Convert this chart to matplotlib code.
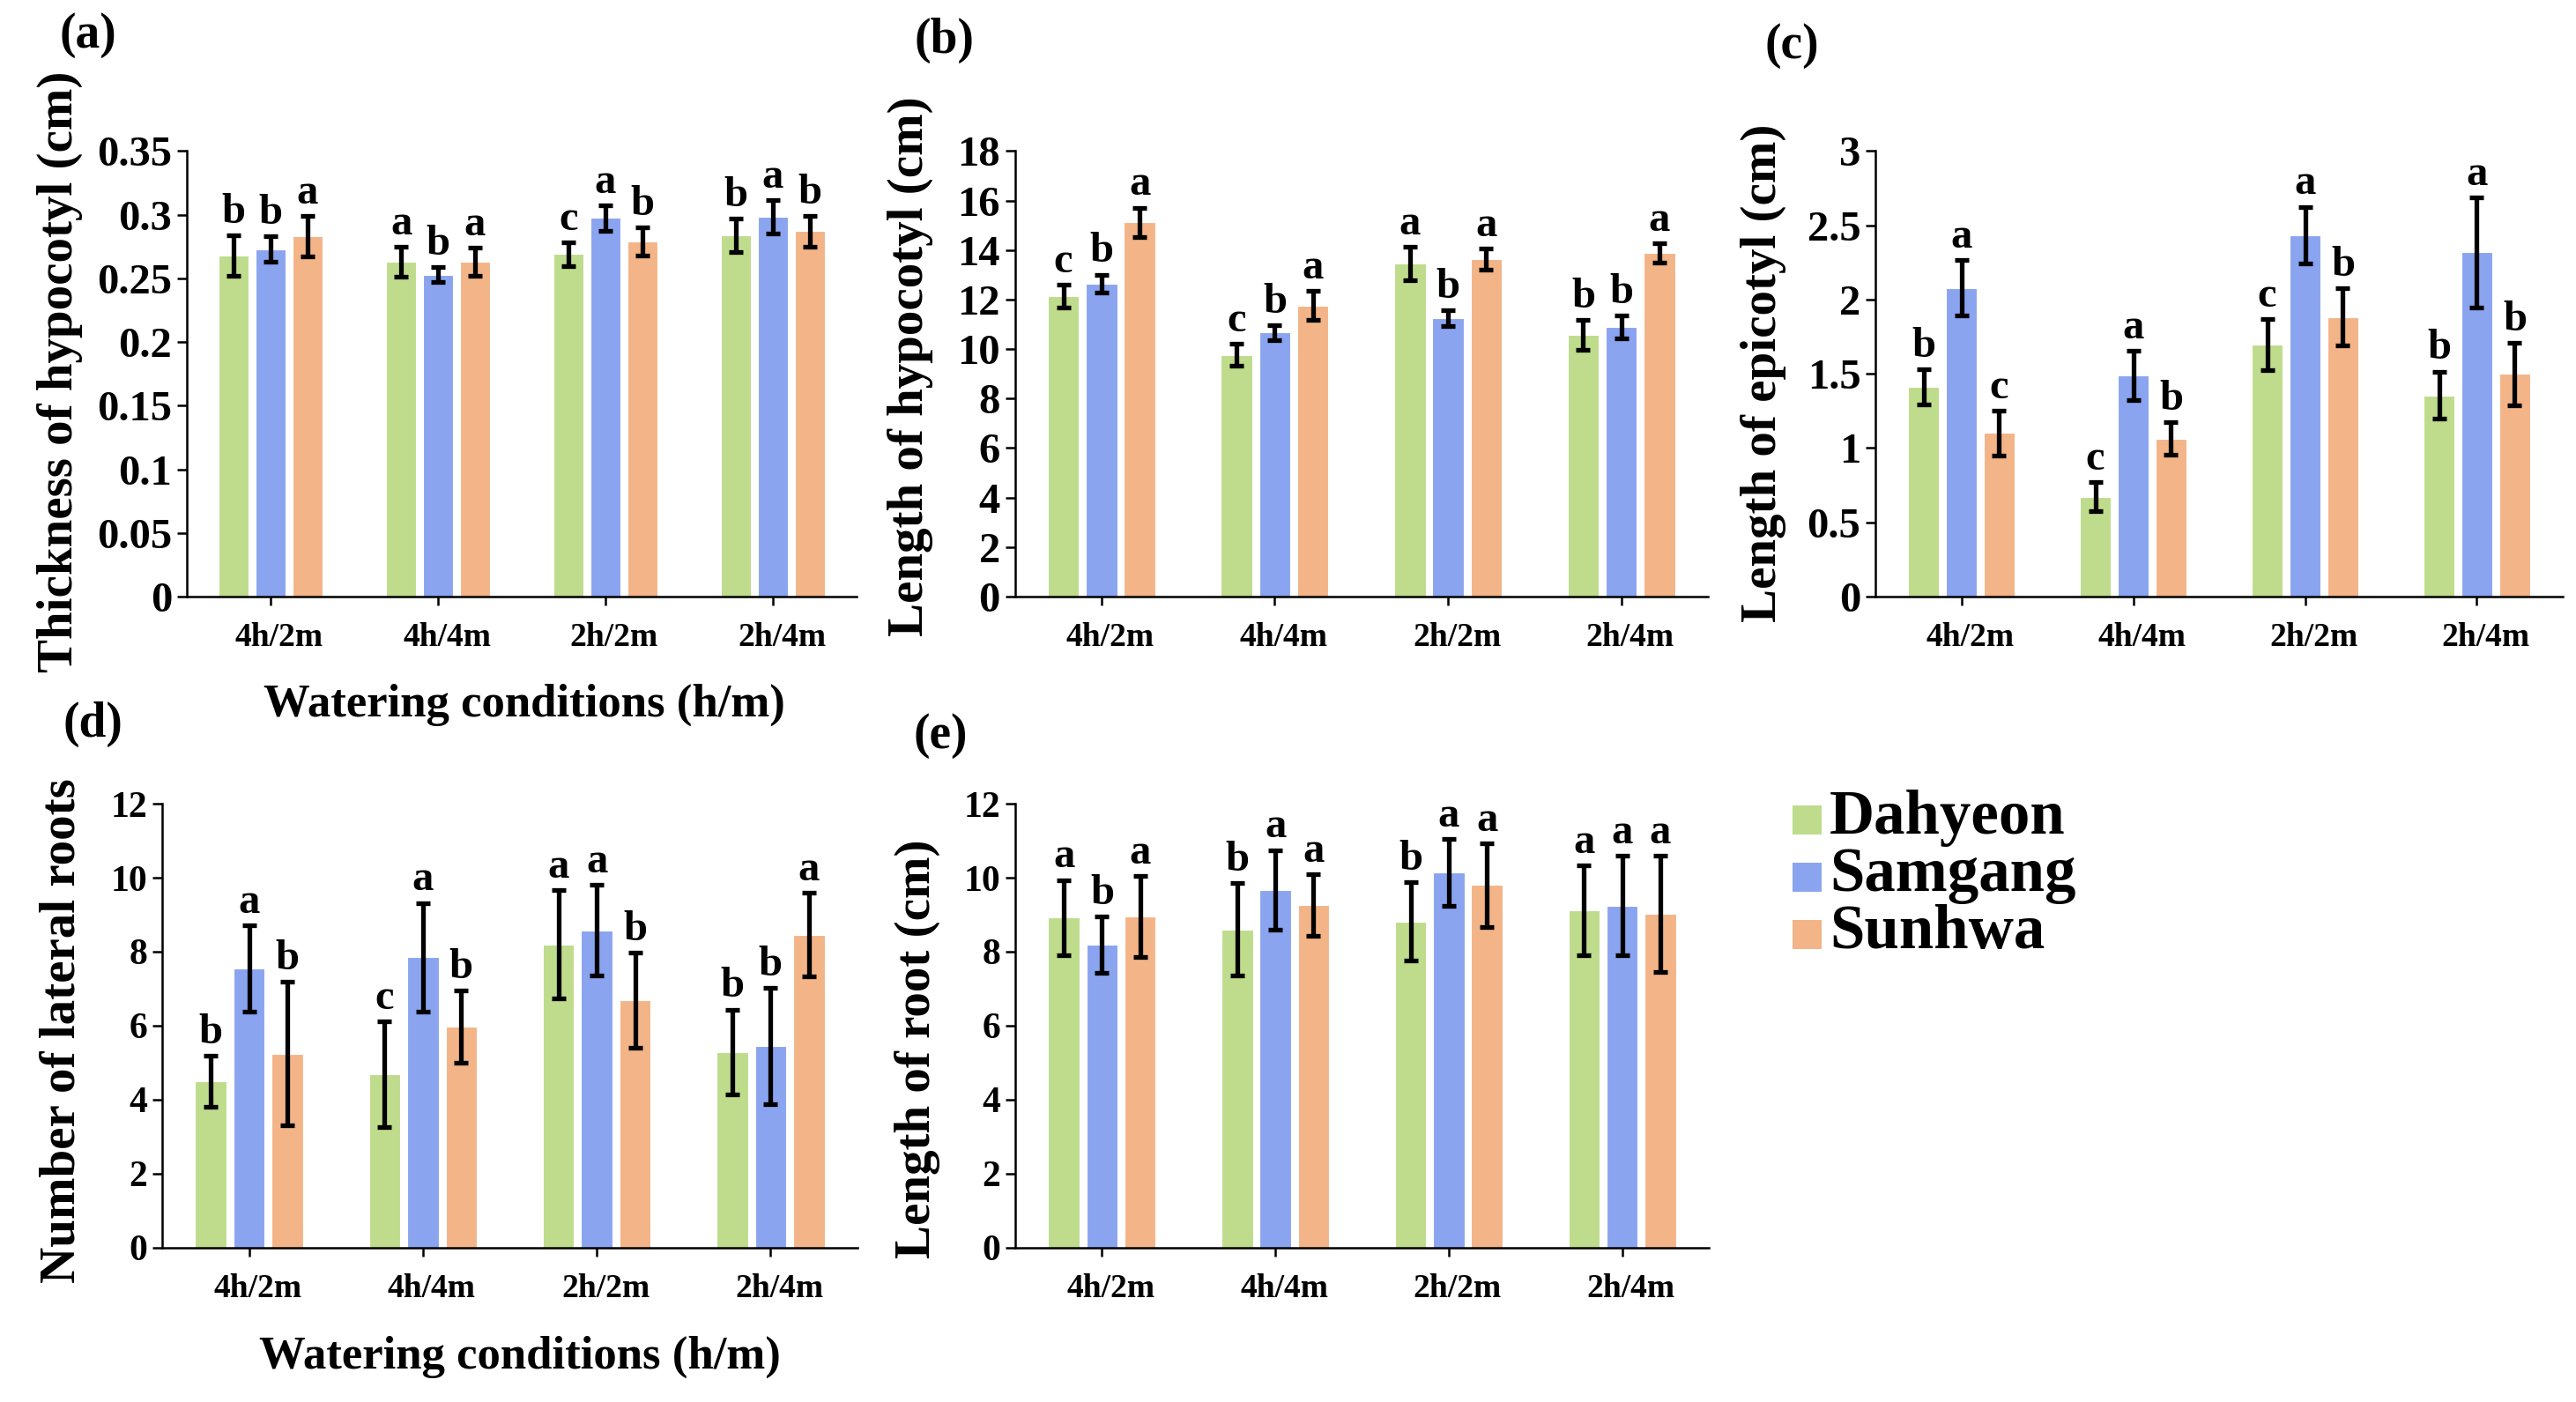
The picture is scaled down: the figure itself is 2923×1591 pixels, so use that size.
import numpy as np
import matplotlib
matplotlib.use("Agg")
import matplotlib.pyplot as plt
from matplotlib.ticker import FuncFormatter, MultipleLocator
from matplotlib.patches import Rectangle
import matplotlib.transforms as mtransforms

plt.rcParams['font.family'] = ['Liberation Serif', 'DejaVu Serif']
plt.rcParams['font.weight'] = 'bold'

W, H, DPI = 2923, 1591, 100

conditions = ["4h/2m", "4h/4m", "2h/2m", "2h/4m"]
cultivars = ["Dahyeon", "Samgang", "Sunhwa"]
colors = ["#BEDC8C", "#8AA4F0", "#F3B488"]

# (a) Thickness of hypocotyl
a_mean = {"Dahyeon": [0.268, 0.263, 0.269, 0.284],
          "Samgang": [0.273, 0.253, 0.2975, 0.2985],
          "Sunhwa":  [0.283, 0.263, 0.279, 0.287]}
a_err = {"Dahyeon": [0.016, 0.012, 0.0095, 0.013],
         "Samgang": [0.010, 0.006, 0.010, 0.013],
         "Sunhwa":  [0.016, 0.011, 0.011, 0.012]}
a_let = {"Dahyeon": ["b", "a", "c", "b"],
         "Samgang": ["b", "b", "a", "a"],
         "Sunhwa":  ["a", "a", "b", "b"]}

# (b) Length of hypocotyl
b_mean = {"Dahyeon": [12.14, 9.77, 13.46, 10.57],
          "Samgang": [12.64, 10.67, 11.26, 10.89],
          "Sunhwa":  [15.12, 11.76, 13.63, 13.89]}
b_err = {"Dahyeon": [0.47, 0.45, 0.68, 0.6],
         "Samgang": [0.37, 0.3, 0.32, 0.47],
         "Sunhwa":  [0.6, 0.58, 0.42, 0.39]}
b_let = {"Dahyeon": ["c", "c", "a", "b"],
         "Samgang": ["b", "b", "b", "b"],
         "Sunhwa":  ["a", "a", "a", "a"]}

# (c) Length of epicotyl
c_mean = {"Dahyeon": [1.412, 0.673, 1.697, 1.356],
          "Samgang": [2.079, 1.489, 2.436, 2.318],
          "Sunhwa":  [1.101, 1.064, 1.883, 1.499]}
c_err = {"Dahyeon": [0.118, 0.10, 0.174, 0.16],
         "Samgang": [0.186, 0.166, 0.19, 0.37],
         "Sunhwa":  [0.15, 0.11, 0.194, 0.21]}
c_let = {"Dahyeon": ["b", "c", "c", "b"],
         "Samgang": ["a", "a", "a", "a"],
         "Sunhwa":  ["c", "b", "b", "b"]}

# (d) Number of lateral roots
d_mean = {"Dahyeon": [4.49, 4.69, 8.2, 5.29],
          "Samgang": [7.54, 7.85, 8.58, 5.45],
          "Sunhwa":  [5.24, 5.98, 6.69, 8.46]}
d_err = {"Dahyeon": [0.69, 1.43, 1.47, 1.15],
         "Samgang": [1.17, 1.47, 1.22, 1.58],
         "Sunhwa":  [1.94, 0.97, 1.29, 1.13]}
d_let = {"Dahyeon": ["b", "c", "a", "b"],
         "Samgang": ["a", "a", "a", "b"],
         "Sunhwa":  ["b", "b", "b", "a"]}

# (e) Length of root
e_mean = {"Dahyeon": [8.92, 8.6, 8.82, 9.12],
          "Samgang": [8.19, 9.67, 10.15, 9.25],
          "Sunhwa":  [8.95, 9.27, 9.8, 9.02]}
e_err = {"Dahyeon": [1.02, 1.25, 1.06, 1.22],
         "Samgang": [0.77, 1.08, 0.9, 1.35],
         "Sunhwa":  [1.1, 0.83, 1.13, 1.57]}
e_let = {"Dahyeon": ["a", "b", "b", "a"],
         "Samgang": ["b", "a", "a", "a"],
         "Sunhwa":  ["a", "a", "a", "a"]}

fig = plt.figure(figsize=(W / DPI, H / DPI), dpi=DPI)


def fx(x):
    return x / W


def fy(y):
    return 1 - y / H


def make_axes(left, right, top, bottom):
    return fig.add_axes([fx(left), fy(bottom), (right - left) / W, (bottom - top) / H])


def draw_panel(ax, mean, err, let, ymax, ystep, tick_fs):
    x = np.arange(len(conditions))
    for j, cv in enumerate(cultivars):
        xs = x + (j - 1) * 0.22
        ax.bar(xs, mean[cv], width=0.18, color=colors[j], edgecolor='white',
               linewidth=0.8, zorder=2)
        ax.errorbar(xs, mean[cv], yerr=err[cv], fmt='none', ecolor='black',
                    elinewidth=3.8, capsize=6, capthick=3.8, zorder=3)
        for k in range(len(conditions)):
            ax.annotate(let[cv][k], (xs[k], mean[cv][k] + err[cv][k]),
                        xytext=(0, 3), textcoords='offset points',
                        ha='center', va='bottom', fontsize=35, fontweight='bold')
    ax.set_xlim(-0.5, len(conditions) - 0.5)
    ax.set_ylim(0, ymax)
    ax.yaxis.set_major_locator(MultipleLocator(ystep))
    ax.yaxis.set_major_formatter(FuncFormatter(lambda v, p: '{:g}'.format(round(v, 4))))
    ax.set_xticks(x)
    ax.set_xticklabels(conditions)
    for s in ['top', 'right']:
        ax.spines[s].set_visible(False)
    for s in ['left', 'bottom']:
        ax.spines[s].set_linewidth(1.8)
    ax.tick_params(axis='y', direction='out', length=8, width=1.8, pad=4,
                   labelsize=tick_fs)
    ax.tick_params(axis='x', direction='out', length=7, width=1.8, pad=14,
                   labelsize=27)
    offset = mtransforms.ScaledTranslation(10 / DPI, 0, fig.dpi_scale_trans)
    for lab in ax.get_xticklabels():
        lab.set_transform(lab.get_transform() + offset)
        lab.set_fontweight('bold')
    for lab in ax.get_yticklabels():
        lab.set_fontweight('bold')


axA = make_axes(212, 972, 171.5, 677)
draw_panel(axA, a_mean, a_err, a_let, 0.35, 0.05, 35)
axB = make_axes(1151.5, 1938, 171.5, 677)
draw_panel(axB, b_mean, b_err, b_let, 18, 2, 35)
axC = make_axes(2128, 2908, 171.5, 677)
draw_panel(axC, c_mean, c_err, c_let, 3, 0.5, 35)
axD = make_axes(184, 973, 912, 1416)
draw_panel(axD, d_mean, d_err, d_let, 12, 2, 30)
axE = make_axes(1152, 1939, 912, 1416)
draw_panel(axE, e_mean, e_err, e_let, 12, 2, 30)

ylab_fs = 41
xlab_fs = 38
fig.text(fx(68), fy(422), "Thickness of hypocotyl (cm)", rotation=90,
         ha='center', va='center', fontsize=ylab_fs, fontweight='bold')
fig.text(fx(1033), fy(416), "Length of hypocotyl (cm)", rotation=90,
         ha='center', va='center', fontsize=ylab_fs, fontweight='bold')
fig.text(fx(2001), fy(423), "Length of epicotyl (cm)", rotation=90,
         ha='center', va='center', fontsize=ylab_fs, fontweight='bold')
fig.text(fx(71), fy(1170), "Number of lateral roots", rotation=90,
         ha='center', va='center', fontsize=ylab_fs, fontweight='bold')
fig.text(fx(1041), fy(1190), "Length of root (cm)", rotation=90,
         ha='center', va='center', fontsize=ylab_fs, fontweight='bold')
fig.text(fx(595), fy(800), "Watering conditions (h/m)",
         ha='center', va='center', fontsize=xlab_fs, fontweight='bold')
fig.text(fx(590), fy(1540), "Watering conditions (h/m)",
         ha='center', va='center', fontsize=xlab_fs, fontweight='bold')

pan_fs = 40
for lbl, (px_, py_) in zip(["(a)", "(b)", "(c)", "(d)", "(e)"],
                           [(100, 40), (1071, 46), (2033, 52), (105, 822), (1067, 835)]):
    fig.text(fx(px_), fy(py_), lbl, ha='center', va='center',
             fontsize=pan_fs, fontweight='bold')

# legend
leg_y = [930, 995, 1060]
for j, cv in enumerate(cultivars):
    fig.patches.append(Rectangle((fx(2034), fy(leg_y[j] + 16.5)), 33 / W, 33 / H,
                                 transform=fig.transFigure, facecolor=colors[j],
                                 edgecolor='none'))
    fig.text(fx(2076), fy(leg_y[j] + 16), cv, ha='left', va='baseline',
             fontsize=51, fontweight='bold')

fig.savefig("out.png", dpi=DPI)
